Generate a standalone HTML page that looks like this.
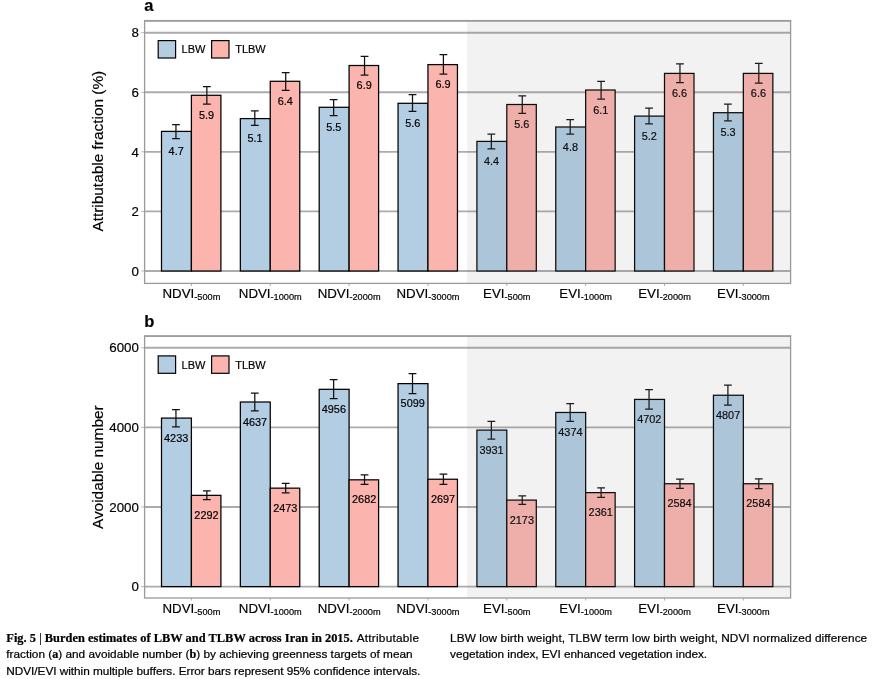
<!DOCTYPE html>
<html lang="en"><head><meta charset="utf-8"><title>Fig. 5</title>
<style>
html,body{margin:0;padding:0;background:#fff;}
body{width:872px;height:679px;overflow:hidden;position:relative;font-family:"Liberation Sans",sans-serif;}
svg{position:absolute;left:0;top:0;display:block;}
svg text{font-family:"Liberation Sans",sans-serif;fill:#000;stroke:#000;stroke-width:0.18px;}
.cap{position:absolute;height:20px;line-height:20px;color:#000;white-space:pre;-webkit-text-stroke:0.22px #000;}
.cap b{font:bold 12.2px "Liberation Serif",serif;}
</style></head><body>
<svg width="872" height="679" viewBox="0 0 872 679">
<line x1="144.6" x2="790.6" y1="271.00" y2="271.00" stroke="#ababab" stroke-width="1.9"/>
<line x1="141.2" x2="144.6" y1="271.00" y2="271.00" stroke="#b8b8b8" stroke-width="1"/>
<text x="138.9" y="275.70" font-size="13.3" text-anchor="end">0</text>
<line x1="144.6" x2="790.6" y1="211.42" y2="211.42" stroke="#ababab" stroke-width="1.9"/>
<line x1="141.2" x2="144.6" y1="211.42" y2="211.42" stroke="#b8b8b8" stroke-width="1"/>
<text x="138.9" y="216.12" font-size="13.3" text-anchor="end">2</text>
<line x1="144.6" x2="790.6" y1="151.84" y2="151.84" stroke="#ababab" stroke-width="1.9"/>
<line x1="141.2" x2="144.6" y1="151.84" y2="151.84" stroke="#b8b8b8" stroke-width="1"/>
<text x="138.9" y="156.54" font-size="13.3" text-anchor="end">4</text>
<line x1="144.6" x2="790.6" y1="92.26" y2="92.26" stroke="#ababab" stroke-width="1.9"/>
<line x1="141.2" x2="144.6" y1="92.26" y2="92.26" stroke="#b8b8b8" stroke-width="1"/>
<text x="138.9" y="96.96" font-size="13.3" text-anchor="end">6</text>
<line x1="144.6" x2="790.6" y1="32.68" y2="32.68" stroke="#ababab" stroke-width="1.9"/>
<line x1="141.2" x2="144.6" y1="32.68" y2="32.68" stroke="#b8b8b8" stroke-width="1"/>
<text x="138.9" y="37.38" font-size="13.3" text-anchor="end">8</text>
<rect x="161.50" y="131.40" width="29.90" height="139.60" fill="#b3cde3" stroke="#000" stroke-width="1.25"/>
<path d="M175.95 124.50V138.70M172.05 124.50h7.8M172.05 138.70h7.8" stroke="#111" stroke-width="1.25" fill="none"/>
<text x="176.15" y="155.00" font-size="10.9" text-anchor="middle" fill="#000">4.7</text>
<rect x="191.40" y="95.30" width="29.50" height="175.70" fill="#fbb4ae" stroke="#000" stroke-width="1.25"/>
<path d="M206.85 86.70V104.20M202.95 86.70h7.8M202.95 104.20h7.8" stroke="#111" stroke-width="1.25" fill="none"/>
<text x="206.45" y="118.90" font-size="10.9" text-anchor="middle" fill="#000">5.9</text>
<line x1="191.40" x2="191.40" y1="283.45" y2="286.05" stroke="#b0b0b0" stroke-width="1"/>
<text x="191.40" y="298.25" font-size="13.3" text-anchor="middle">NDVI<tspan font-size="9.2" dy="2">-500m</tspan></text>
<rect x="240.35" y="118.60" width="29.90" height="152.40" fill="#b3cde3" stroke="#000" stroke-width="1.25"/>
<path d="M254.80 110.80V125.30M250.90 110.80h7.8M250.90 125.30h7.8" stroke="#111" stroke-width="1.25" fill="none"/>
<text x="255.00" y="142.20" font-size="10.9" text-anchor="middle" fill="#000">5.1</text>
<rect x="270.25" y="81.30" width="29.50" height="189.70" fill="#fbb4ae" stroke="#000" stroke-width="1.25"/>
<path d="M285.70 72.50V90.30M281.80 72.50h7.8M281.80 90.30h7.8" stroke="#111" stroke-width="1.25" fill="none"/>
<text x="285.30" y="104.90" font-size="10.9" text-anchor="middle" fill="#000">6.4</text>
<line x1="270.25" x2="270.25" y1="283.45" y2="286.05" stroke="#b0b0b0" stroke-width="1"/>
<text x="270.25" y="298.25" font-size="13.3" text-anchor="middle">NDVI<tspan font-size="9.2" dy="2">-1000m</tspan></text>
<rect x="319.20" y="107.30" width="29.90" height="163.70" fill="#b3cde3" stroke="#000" stroke-width="1.25"/>
<path d="M333.65 99.50V115.50M329.75 99.50h7.8M329.75 115.50h7.8" stroke="#111" stroke-width="1.25" fill="none"/>
<text x="333.85" y="130.90" font-size="10.9" text-anchor="middle" fill="#000">5.5</text>
<rect x="349.10" y="65.50" width="29.50" height="205.50" fill="#fbb4ae" stroke="#000" stroke-width="1.25"/>
<path d="M364.55 56.30V75.00M360.65 56.30h7.8M360.65 75.00h7.8" stroke="#111" stroke-width="1.25" fill="none"/>
<text x="364.15" y="89.10" font-size="10.9" text-anchor="middle" fill="#000">6.9</text>
<line x1="349.10" x2="349.10" y1="283.45" y2="286.05" stroke="#b0b0b0" stroke-width="1"/>
<text x="349.10" y="298.25" font-size="13.3" text-anchor="middle">NDVI<tspan font-size="9.2" dy="2">-2000m</tspan></text>
<rect x="398.05" y="103.30" width="29.90" height="167.70" fill="#b3cde3" stroke="#000" stroke-width="1.25"/>
<path d="M412.50 94.70V111.30M408.60 94.70h7.8M408.60 111.30h7.8" stroke="#111" stroke-width="1.25" fill="none"/>
<text x="412.70" y="126.90" font-size="10.9" text-anchor="middle" fill="#000">5.6</text>
<rect x="427.95" y="64.60" width="29.50" height="206.40" fill="#fbb4ae" stroke="#000" stroke-width="1.25"/>
<path d="M443.40 54.70V74.20M439.50 54.70h7.8M439.50 74.20h7.8" stroke="#111" stroke-width="1.25" fill="none"/>
<text x="443.00" y="88.20" font-size="10.9" text-anchor="middle" fill="#000">6.9</text>
<line x1="427.95" x2="427.95" y1="283.45" y2="286.05" stroke="#b0b0b0" stroke-width="1"/>
<text x="427.95" y="298.25" font-size="13.3" text-anchor="middle">NDVI<tspan font-size="9.2" dy="2">-3000m</tspan></text>
<rect x="476.90" y="141.40" width="29.90" height="129.60" fill="#b3cde3" stroke="#000" stroke-width="1.25"/>
<path d="M491.35 134.20V148.80M487.45 134.20h7.8M487.45 148.80h7.8" stroke="#111" stroke-width="1.25" fill="none"/>
<text x="491.55" y="165.00" font-size="10.9" text-anchor="middle" fill="#000">4.4</text>
<rect x="506.80" y="104.50" width="29.50" height="166.50" fill="#fbb4ae" stroke="#000" stroke-width="1.25"/>
<path d="M522.25 95.80V113.30M518.35 95.80h7.8M518.35 113.30h7.8" stroke="#111" stroke-width="1.25" fill="none"/>
<text x="521.85" y="128.10" font-size="10.9" text-anchor="middle" fill="#000">5.6</text>
<line x1="506.80" x2="506.80" y1="283.45" y2="286.05" stroke="#b0b0b0" stroke-width="1"/>
<text x="506.80" y="298.25" font-size="13.3" text-anchor="middle">EVI<tspan font-size="9.2" dy="2">-500m</tspan></text>
<rect x="555.75" y="127.00" width="29.90" height="144.00" fill="#b3cde3" stroke="#000" stroke-width="1.25"/>
<path d="M570.20 119.50V134.20M566.30 119.50h7.8M566.30 134.20h7.8" stroke="#111" stroke-width="1.25" fill="none"/>
<text x="570.40" y="150.60" font-size="10.9" text-anchor="middle" fill="#000">4.8</text>
<rect x="585.65" y="90.00" width="29.50" height="181.00" fill="#fbb4ae" stroke="#000" stroke-width="1.25"/>
<path d="M601.10 81.30V99.20M597.20 81.30h7.8M597.20 99.20h7.8" stroke="#111" stroke-width="1.25" fill="none"/>
<text x="600.70" y="113.60" font-size="10.9" text-anchor="middle" fill="#000">6.1</text>
<line x1="585.65" x2="585.65" y1="283.45" y2="286.05" stroke="#b0b0b0" stroke-width="1"/>
<text x="585.65" y="298.25" font-size="13.3" text-anchor="middle">EVI<tspan font-size="9.2" dy="2">-1000m</tspan></text>
<rect x="634.60" y="116.10" width="29.90" height="154.90" fill="#b3cde3" stroke="#000" stroke-width="1.25"/>
<path d="M649.05 108.00V123.80M645.15 108.00h7.8M645.15 123.80h7.8" stroke="#111" stroke-width="1.25" fill="none"/>
<text x="649.25" y="139.70" font-size="10.9" text-anchor="middle" fill="#000">5.2</text>
<rect x="664.50" y="73.40" width="29.50" height="197.60" fill="#fbb4ae" stroke="#000" stroke-width="1.25"/>
<path d="M679.95 63.80V82.50M676.05 63.80h7.8M676.05 82.50h7.8" stroke="#111" stroke-width="1.25" fill="none"/>
<text x="679.55" y="97.00" font-size="10.9" text-anchor="middle" fill="#000">6.6</text>
<line x1="664.50" x2="664.50" y1="283.45" y2="286.05" stroke="#b0b0b0" stroke-width="1"/>
<text x="664.50" y="298.25" font-size="13.3" text-anchor="middle">EVI<tspan font-size="9.2" dy="2">-2000m</tspan></text>
<rect x="713.45" y="112.70" width="29.90" height="158.30" fill="#b3cde3" stroke="#000" stroke-width="1.25"/>
<path d="M727.90 104.20V120.80M724.00 104.20h7.8M724.00 120.80h7.8" stroke="#111" stroke-width="1.25" fill="none"/>
<text x="728.10" y="136.30" font-size="10.9" text-anchor="middle" fill="#000">5.3</text>
<rect x="743.35" y="73.40" width="29.50" height="197.60" fill="#fbb4ae" stroke="#000" stroke-width="1.25"/>
<path d="M758.80 63.30V83.00M754.90 63.30h7.8M754.90 83.00h7.8" stroke="#111" stroke-width="1.25" fill="none"/>
<text x="758.40" y="97.00" font-size="10.9" text-anchor="middle" fill="#000">6.6</text>
<line x1="743.35" x2="743.35" y1="283.45" y2="286.05" stroke="#b0b0b0" stroke-width="1"/>
<text x="743.35" y="298.25" font-size="13.3" text-anchor="middle">EVI<tspan font-size="9.2" dy="2">-3000m</tspan></text>
<rect x="467.0" y="20.6" width="323.6" height="262.8" fill="#7f7f7f" fill-opacity="0.1"/>
<rect x="144.6" y="20.6" width="646.0" height="262.8" fill="none" stroke="#9a9a9a" stroke-width="1.3"/>
<line x1="143.95" x2="791.25" y1="21.200000000000003" y2="21.200000000000003" stroke="#9a9a9a" stroke-width="1.0"/>
<rect x="158.2" y="40.6" width="17.4" height="17.4" fill="#b3cde3" stroke="#000" stroke-width="1.2"/>
<text x="181.6" y="53.3" font-size="11">LBW</text>
<rect x="211.6" y="40.6" width="17.4" height="17.4" fill="#fbb4ae" stroke="#000" stroke-width="1.2"/>
<text x="235.2" y="53.3" font-size="11">TLBW</text>
<text x="144.2" y="11.2" font-size="16.5" font-weight="bold" fill="#000">a</text>
<text transform="translate(103.3 151.2) rotate(-90)" font-size="15.4" text-anchor="middle">Attributable fraction (%)</text>
<line x1="144.6" x2="790.6" y1="586.60" y2="586.60" stroke="#ababab" stroke-width="1.9"/>
<line x1="141.2" x2="144.6" y1="586.60" y2="586.60" stroke="#b8b8b8" stroke-width="1"/>
<text x="138.9" y="591.30" font-size="13.3" text-anchor="end">0</text>
<line x1="144.6" x2="790.6" y1="506.98" y2="506.98" stroke="#ababab" stroke-width="1.9"/>
<line x1="141.2" x2="144.6" y1="506.98" y2="506.98" stroke="#b8b8b8" stroke-width="1"/>
<text x="138.9" y="511.68" font-size="13.3" text-anchor="end">2000</text>
<line x1="144.6" x2="790.6" y1="427.37" y2="427.37" stroke="#ababab" stroke-width="1.9"/>
<line x1="141.2" x2="144.6" y1="427.37" y2="427.37" stroke="#b8b8b8" stroke-width="1"/>
<text x="138.9" y="432.07" font-size="13.3" text-anchor="end">4000</text>
<line x1="144.6" x2="790.6" y1="347.75" y2="347.75" stroke="#ababab" stroke-width="1.9"/>
<line x1="141.2" x2="144.6" y1="347.75" y2="347.75" stroke="#b8b8b8" stroke-width="1"/>
<text x="138.9" y="352.45" font-size="13.3" text-anchor="end">6000</text>
<rect x="161.50" y="418.09" width="29.90" height="168.51" fill="#b3cde3" stroke="#000" stroke-width="1.25"/>
<path d="M175.95 409.60V426.80M172.05 409.60h7.8M172.05 426.80h7.8" stroke="#111" stroke-width="1.25" fill="none"/>
<text x="176.15" y="441.69" font-size="10.9" text-anchor="middle" fill="#000">4233</text>
<rect x="191.40" y="495.36" width="29.50" height="91.24" fill="#fbb4ae" stroke="#000" stroke-width="1.25"/>
<path d="M206.85 490.98V499.74M202.95 490.98h7.8M202.95 499.74h7.8" stroke="#111" stroke-width="1.25" fill="none"/>
<text x="206.45" y="518.96" font-size="10.9" text-anchor="middle" fill="#000">2292</text>
<line x1="191.40" x2="191.40" y1="598.0" y2="600.6" stroke="#b0b0b0" stroke-width="1"/>
<text x="191.40" y="612.80" font-size="13.3" text-anchor="middle">NDVI<tspan font-size="9.2" dy="2">-500m</tspan></text>
<rect x="240.35" y="402.01" width="29.90" height="184.59" fill="#b3cde3" stroke="#000" stroke-width="1.25"/>
<path d="M254.80 393.08V410.88M250.90 393.08h7.8M250.90 410.88h7.8" stroke="#111" stroke-width="1.25" fill="none"/>
<text x="255.00" y="425.61" font-size="10.9" text-anchor="middle" fill="#000">4637</text>
<rect x="270.25" y="488.15" width="29.50" height="98.45" fill="#fbb4ae" stroke="#000" stroke-width="1.25"/>
<path d="M285.70 483.43V492.88M281.80 483.43h7.8M281.80 492.88h7.8" stroke="#111" stroke-width="1.25" fill="none"/>
<text x="285.30" y="511.75" font-size="10.9" text-anchor="middle" fill="#000">2473</text>
<line x1="270.25" x2="270.25" y1="598.0" y2="600.6" stroke="#b0b0b0" stroke-width="1"/>
<text x="270.25" y="612.80" font-size="13.3" text-anchor="middle">NDVI<tspan font-size="9.2" dy="2">-1000m</tspan></text>
<rect x="319.20" y="389.31" width="29.90" height="197.29" fill="#b3cde3" stroke="#000" stroke-width="1.25"/>
<path d="M333.65 379.56V398.66M329.75 379.56h7.8M329.75 398.66h7.8" stroke="#111" stroke-width="1.25" fill="none"/>
<text x="333.85" y="412.91" font-size="10.9" text-anchor="middle" fill="#000">4956</text>
<rect x="349.10" y="479.83" width="29.50" height="106.77" fill="#fbb4ae" stroke="#000" stroke-width="1.25"/>
<path d="M364.55 474.79V484.39M360.65 474.79h7.8M360.65 484.39h7.8" stroke="#111" stroke-width="1.25" fill="none"/>
<text x="364.15" y="503.43" font-size="10.9" text-anchor="middle" fill="#000">2682</text>
<line x1="349.10" x2="349.10" y1="598.0" y2="600.6" stroke="#b0b0b0" stroke-width="1"/>
<text x="349.10" y="612.80" font-size="13.3" text-anchor="middle">NDVI<tspan font-size="9.2" dy="2">-2000m</tspan></text>
<rect x="398.05" y="383.62" width="29.90" height="202.98" fill="#b3cde3" stroke="#000" stroke-width="1.25"/>
<path d="M412.50 373.65V393.55M408.60 373.65h7.8M408.60 393.55h7.8" stroke="#111" stroke-width="1.25" fill="none"/>
<text x="412.70" y="407.22" font-size="10.9" text-anchor="middle" fill="#000">5099</text>
<rect x="427.95" y="479.24" width="29.50" height="107.36" fill="#fbb4ae" stroke="#000" stroke-width="1.25"/>
<path d="M443.40 474.19V484.39M439.50 474.19h7.8M439.50 484.39h7.8" stroke="#111" stroke-width="1.25" fill="none"/>
<text x="443.00" y="502.84" font-size="10.9" text-anchor="middle" fill="#000">2697</text>
<line x1="427.95" x2="427.95" y1="598.0" y2="600.6" stroke="#b0b0b0" stroke-width="1"/>
<text x="427.95" y="612.80" font-size="13.3" text-anchor="middle">NDVI<tspan font-size="9.2" dy="2">-3000m</tspan></text>
<rect x="476.90" y="430.11" width="29.90" height="156.49" fill="#b3cde3" stroke="#000" stroke-width="1.25"/>
<path d="M491.35 421.42V439.02M487.45 421.42h7.8M487.45 439.02h7.8" stroke="#111" stroke-width="1.25" fill="none"/>
<text x="491.55" y="453.71" font-size="10.9" text-anchor="middle" fill="#000">3931</text>
<rect x="506.80" y="500.10" width="29.50" height="86.50" fill="#fbb4ae" stroke="#000" stroke-width="1.25"/>
<path d="M522.25 495.82V504.42M518.35 495.82h7.8M518.35 504.42h7.8" stroke="#111" stroke-width="1.25" fill="none"/>
<text x="521.85" y="523.70" font-size="10.9" text-anchor="middle" fill="#000">2173</text>
<line x1="506.80" x2="506.80" y1="598.0" y2="600.6" stroke="#b0b0b0" stroke-width="1"/>
<text x="506.80" y="612.80" font-size="13.3" text-anchor="middle">EVI<tspan font-size="9.2" dy="2">-500m</tspan></text>
<rect x="555.75" y="412.48" width="29.90" height="174.12" fill="#b3cde3" stroke="#000" stroke-width="1.25"/>
<path d="M570.20 403.50V421.40M566.30 403.50h7.8M566.30 421.40h7.8" stroke="#111" stroke-width="1.25" fill="none"/>
<text x="570.40" y="436.08" font-size="10.9" text-anchor="middle" fill="#000">4374</text>
<rect x="585.65" y="492.61" width="29.50" height="93.99" fill="#fbb4ae" stroke="#000" stroke-width="1.25"/>
<path d="M601.10 487.81V497.41M597.20 487.81h7.8M597.20 497.41h7.8" stroke="#111" stroke-width="1.25" fill="none"/>
<text x="600.70" y="516.21" font-size="10.9" text-anchor="middle" fill="#000">2361</text>
<line x1="585.65" x2="585.65" y1="598.0" y2="600.6" stroke="#b0b0b0" stroke-width="1"/>
<text x="585.65" y="612.80" font-size="13.3" text-anchor="middle">EVI<tspan font-size="9.2" dy="2">-1000m</tspan></text>
<rect x="634.60" y="399.42" width="29.90" height="187.18" fill="#b3cde3" stroke="#000" stroke-width="1.25"/>
<path d="M649.05 389.58V409.08M645.15 389.58h7.8M645.15 409.08h7.8" stroke="#111" stroke-width="1.25" fill="none"/>
<text x="649.25" y="423.02" font-size="10.9" text-anchor="middle" fill="#000">4702</text>
<rect x="664.50" y="483.74" width="29.50" height="102.86" fill="#fbb4ae" stroke="#000" stroke-width="1.25"/>
<path d="M679.95 479.00V488.30M676.05 479.00h7.8M676.05 488.30h7.8" stroke="#111" stroke-width="1.25" fill="none"/>
<text x="679.55" y="507.34" font-size="10.9" text-anchor="middle" fill="#000">2584</text>
<line x1="664.50" x2="664.50" y1="598.0" y2="600.6" stroke="#b0b0b0" stroke-width="1"/>
<text x="664.50" y="612.80" font-size="13.3" text-anchor="middle">EVI<tspan font-size="9.2" dy="2">-2000m</tspan></text>
<rect x="713.45" y="395.24" width="29.90" height="191.36" fill="#b3cde3" stroke="#000" stroke-width="1.25"/>
<path d="M727.90 385.07V405.17M724.00 385.07h7.8M724.00 405.17h7.8" stroke="#111" stroke-width="1.25" fill="none"/>
<text x="728.10" y="418.84" font-size="10.9" text-anchor="middle" fill="#000">4807</text>
<rect x="743.35" y="483.74" width="29.50" height="102.86" fill="#fbb4ae" stroke="#000" stroke-width="1.25"/>
<path d="M758.80 478.80V488.50M754.90 478.80h7.8M754.90 488.50h7.8" stroke="#111" stroke-width="1.25" fill="none"/>
<text x="758.40" y="507.34" font-size="10.9" text-anchor="middle" fill="#000">2584</text>
<line x1="743.35" x2="743.35" y1="598.0" y2="600.6" stroke="#b0b0b0" stroke-width="1"/>
<text x="743.35" y="612.80" font-size="13.3" text-anchor="middle">EVI<tspan font-size="9.2" dy="2">-3000m</tspan></text>
<rect x="467.0" y="336.3" width="323.6" height="261.7" fill="#7f7f7f" fill-opacity="0.1"/>
<rect x="144.6" y="336.3" width="646.0" height="261.7" fill="none" stroke="#9a9a9a" stroke-width="1.3"/>
<line x1="143.95" x2="791.25" y1="335.75" y2="335.75" stroke="#9a9a9a" stroke-width="1.0"/>
<rect x="158.2" y="355.9" width="17.4" height="17.4" fill="#b3cde3" stroke="#000" stroke-width="1.2"/>
<text x="181.6" y="368.6" font-size="11">LBW</text>
<rect x="211.6" y="355.9" width="17.4" height="17.4" fill="#fbb4ae" stroke="#000" stroke-width="1.2"/>
<text x="235.2" y="368.6" font-size="11">TLBW</text>
<text x="144.2" y="327.2" font-size="16.5" font-weight="bold" fill="#000">b</text>
<text transform="translate(103.3 467.2) rotate(-90)" font-size="15.4" text-anchor="middle">Avoidable number</text>
</svg>
<div class="cap" style='font:bold 12.4px/20px "Liberation Serif",serif;left:6.3px;top:627.8px;letter-spacing:0.024px'>Fig. 5 <span style="font-weight:normal">|</span> Burden estimates of LBW and TLBW across Iran in 2015.</div>
<div class="cap" style='font:normal 11.8px/20px "Liberation Sans",sans-serif;left:356.7px;top:627.8px;letter-spacing:0.234px'>Attributable</div>
<div class="cap" style='font:normal 11.8px/20px "Liberation Sans",sans-serif;left:6.3px;top:644.1px;letter-spacing:-0.001px'>fraction (<b>a</b>) and avoidable number (<b>b</b>) by achieving greenness targets of mean</div>
<div class="cap" style='font:normal 11.8px/20px "Liberation Sans",sans-serif;left:6.3px;top:660.7px;letter-spacing:-0.034px'>NDVI/EVI within multiple buffers. Error bars represent 95% confidence intervals.</div>
<div class="cap" style='font:normal 11.8px/20px "Liberation Sans",sans-serif;left:450.1px;top:627.8px;letter-spacing:0.077px'>LBW low birth weight, TLBW term low birth weight, NDVI normalized difference</div>
<div class="cap" style='font:normal 11.8px/20px "Liberation Sans",sans-serif;left:450.1px;top:644.1px;letter-spacing:-0.043px'>vegetation index, EVI enhanced vegetation index.</div>
</body></html>
